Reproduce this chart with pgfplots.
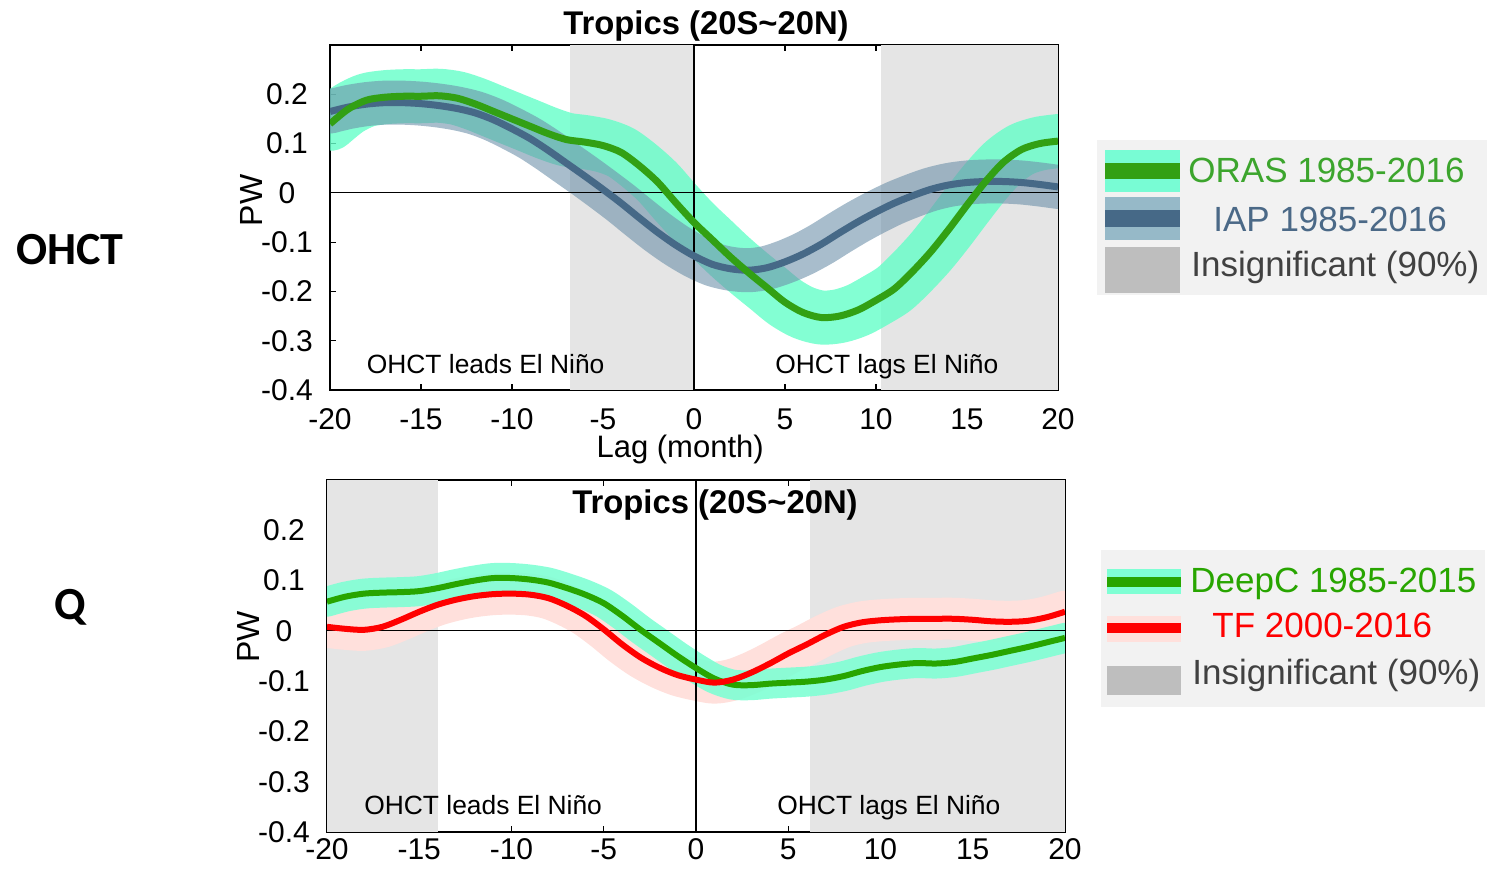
\documentclass[border=0pt]{standalone}
\usepackage{pgfplots}
\pgfplotsset{compat=1.18}
\usepackage{pgfplotstable}
\usepackage{fontspec}
\setmainfont{Liberation Sans}
\newfontfamily\carlito{Carlito}

\definecolor{orasline}{RGB}{50,160,20}
\definecolor{orasband}{RGB}{100,255,200}
\definecolor{iapline}{RGB}{70,105,135}
\definecolor{iapband}{RGB}{110,145,170}
\definecolor{shade}{RGB}{229,229,229}
\definecolor{deepline}{RGB}{40,165,0}
\definecolor{deepband}{RGB}{127,255,212}
\definecolor{tfline}{RGB}{255,0,0}
\definecolor{tfband}{RGB}{255,224,220}
\definecolor{orastext}{RGB}{60,165,45}
\definecolor{iaptext}{RGB}{75,105,135}
\definecolor{insigtext}{RGB}{65,65,65}
\definecolor{legbg}{RGB}{242,242,242}
\definecolor{legaqua}{RGB}{120,252,212}
\definecolor{legiap}{RGB}{150,185,200}
\definecolor{leggray}{RGB}{190,190,190}

\pgfplotstableread{
x oras iap
-20 0.140 0.165
-19 0.170 0.174
-18 0.188 0.180
-17 0.194 0.183
-16 0.196 0.183
-15 0.196 0.181
-14 0.197 0.177
-13 0.192 0.171
-12 0.180 0.162
-11 0.165 0.148
-10 0.150 0.130
-9 0.135 0.110
-8 0.120 0.086
-7 0.108 0.060
-6 0.103 0.034
-5 0.096 0.007
-4 0.082 -0.021
-3 0.055 -0.051
-2 0.022 -0.080
-1 -0.020 -0.106
0 -0.060 -0.128
1 -0.095 -0.145
2 -0.130 -0.154
3 -0.162 -0.157
4 -0.192 -0.152
5 -0.222 -0.140
6 -0.243 -0.124
7 -0.253 -0.104
8 -0.250 -0.081
9 -0.238 -0.059
10 -0.218 -0.039
11 -0.195 -0.021
12 -0.160 -0.006
13 -0.120 0.007
14 -0.074 0.016
15 -0.025 0.021
16 0.022 0.023
17 0.062 0.023
18 0.088 0.021
19 0.100 0.017
20 0.105 0.012
}\toptable

\pgfplotstableread{
x deepc tf
-20 0.058 0.008
-19 0.068 0.004
-18 0.074 0.002
-17 0.076 0.008
-16 0.077 0.022
-15 0.079 0.038
-14 0.085 0.052
-13 0.093 0.062
-12 0.100 0.069
-11 0.105 0.073
-10 0.105 0.074
-9 0.102 0.072
-8 0.096 0.065
-7 0.085 0.050
-6 0.072 0.030
-5 0.055 0.003
-4 0.030 -0.027
-3 0.002 -0.053
-2 -0.024 -0.073
-1 -0.050 -0.088
0 -0.074 -0.097
1 -0.095 -0.103
2 -0.107 -0.097
3 -0.108 -0.083
4 -0.105 -0.065
5 -0.103 -0.045
6 -0.101 -0.027
7 -0.097 -0.008
8 -0.090 0.008
9 -0.080 0.017
10 -0.072 0.021
11 -0.067 0.023
12 -0.064 0.024
13 -0.065 0.024
14 -0.062 0.024
15 -0.055 0.022
16 -0.048 0.019
17 -0.040 0.018
18 -0.032 0.020
19 -0.023 0.027
20 -0.014 0.038
}\bottable

\pgfplotsset{
  panel/.style={
    scale only axis,
    xmin=-20, xmax=20, ymin=-0.4, ymax=0.3,
    xtick={-20,-15,...,20},
    ytick={-0.4,-0.3,-0.2,-0.1,0,0.1,0.2},
    tick align=inside,
    major tick length=3pt,
    axis line style={line width=0.8pt},
    tick style={black, line width=0.6pt},
    tick label style={font=\fontsize{15}{15}\selectfont},
    /pgf/number format/assume math mode=true,
    yticklabel style={anchor=center, inner sep=0pt, xshift=-21.5pt},
    ylabel={PW},
    ylabel style={font=\fontsize{16}{16}\selectfont, anchor=center},
  },
  band/.style={line width=#1, line cap=round, line join=round, smooth, no markers},
}

\begin{document}
\begin{tikzpicture}[x=0.5pt,y=0.5pt]
\useasboundingbox (0,0) rectangle (1490,876);

% ---------------- top panel ----------------
\begin{axis}[panel,
  at={(165pt,243pt)}, anchor=south west,
  width=364pt, height=172.5pt,
  xticklabel style={anchor=base, inner sep=0pt, yshift=-20pt},
  xlabel={Lag (month)},
  xlabel style={font=\fontsize{15.5}{15.5}\selectfont, inner sep=0pt, at={(axis description cs:0.481,0)}, anchor=base, yshift=-34pt},
  ylabel style={at={(axis description cs:-0.108,0.55)}},
]
\addplot[fill=shade, draw=none] coordinates {(-6.8,-0.4) (0,-0.4) (0,0.3) (-6.8,0.3)} -- cycle;
\addplot[fill=shade, draw=none] coordinates {(10.3,-0.4) (20,-0.4) (20,0.3) (10.3,0.3)} -- cycle;
\addplot[band=27pt, orasband, opacity=0.8] table[x=x, y=oras] {\toptable};
\addplot[band=22pt, iapband, opacity=0.6] table[x=x, y=iap] {\toptable};
\addplot[black, line width=0.6pt] coordinates {(-20,0) (20,0)};
\addplot[black, line width=0.6pt] coordinates {(0,-0.4) (0,0.3)};
\addplot[iapline, line width=3.5pt, smooth, no markers] table[x=x, y=iap] {\toptable};
\addplot[orasline, line width=3.5pt, smooth, no markers] table[x=x, y=oras] {\toptable};
\node[anchor=base west, inner sep=0pt, font=\fontsize{13.2}{13.2}\selectfont] at (axis cs:-18.0,-0.367) {OHCT leads El Niño};
\node[anchor=base west, inner sep=0pt, font=\fontsize{13.2}{13.2}\selectfont] at (axis cs:4.45,-0.367) {OHCT lags El Niño};
\end{axis}

% ---------------- bottom panel ----------------
\begin{axis}[panel,
  at={(163.5pt,22pt)}, anchor=south west,
  width=369pt, height=176pt,
  xticklabel style={anchor=base, inner sep=0pt, yshift=-14pt},
  ylabel style={at={(axis description cs:-0.107,0.554)}},
]
\addplot[fill=shade, draw=none] coordinates {(-20,-0.4) (-14,-0.4) (-14,0.3) (-20,0.3)} -- cycle;
\addplot[fill=shade, draw=none] coordinates {(6.2,-0.4) (20,-0.4) (20,0.3) (6.2,0.3)} -- cycle;
\addplot[band=21pt, tfband] table[x=x, y=tf] {\bottable};
\addplot[band=15pt, deepband, opacity=0.9] table[x=x, y=deepc] {\bottable};
\addplot[black, line width=0.6pt] coordinates {(-20,0) (20,0)};
\addplot[black, line width=0.6pt] coordinates {(0,-0.4) (0,0.3)};
\addplot[deepline, line width=3pt, smooth, no markers] table[x=x, y=deepc] {\bottable};
\addplot[tfline, line width=3pt, smooth, no markers] table[x=x, y=tf] {\bottable};
\node[anchor=base west, inner sep=0pt, font=\fontsize{13.2}{13.2}\selectfont] at (axis cs:-18.0,-0.366) {OHCT leads El Niño};
\node[anchor=base west, inner sep=0pt, font=\fontsize{13.2}{13.2}\selectfont] at (axis cs:4.39,-0.366) {OHCT lags El Niño};
\end{axis}

% titles
\node[anchor=base, inner sep=0pt, font=\bfseries\fontsize{16.4}{16.4}\selectfont] at (706,841) {Tropics (20S\textasciitilde20N)};
\node[anchor=base, inner sep=0pt, font=\bfseries\fontsize{16.4}{16.4}\selectfont] at (715,362) {Tropics (20S\textasciitilde20N)};

% row labels
\node[anchor=base, inner sep=0pt, font=\carlito\bfseries\fontsize{23}{23}\selectfont] at (70,611) {OHCT};
\node[anchor=base, inner sep=0pt, font=\carlito\bfseries\fontsize{23}{23}\selectfont] at (70,256) {Q};

% top legend
\fill[legbg] (1097,736) rectangle (1487,581);
\fill[legaqua] (1105,726) rectangle (1180,684);
\fill[orasline] (1105,713) rectangle (1180,697);
\fill[legiap] (1105,679) rectangle (1180,636);
\fill[iapline] (1105,666) rectangle (1180,649);
\fill[leggray] (1105,629) rectangle (1180,583);
\node[anchor=base west, inner sep=0pt, text=orastext, font=\fontsize{17.5}{17.5}\selectfont] at (1188,693) {ORAS 1985-2016};
\node[anchor=base west, inner sep=0pt, text=iaptext, font=\fontsize{17.5}{17.5}\selectfont] at (1213,644) {IAP 1985-2016};
\node[anchor=base west, inner sep=0pt, text=insigtext, font=\fontsize{17.5}{17.5}\selectfont] at (1191,599) {Insignificant (90\%)};

% bottom legend
\fill[legbg] (1101,326) rectangle (1485,169);
\fill[deepband] (1107,307) rectangle (1181,282);
\fill[deepline] (1107,299) rectangle (1181,289);
\fill[tfband] (1107,260) rectangle (1181,234);
\fill[tfline] (1107,253) rectangle (1181,243);
\fill[leggray] (1107,210) rectangle (1181,181);
\node[anchor=base west, inner sep=0pt, text=deepline, font=\fontsize{17.5}{17.5}\selectfont] at (1190,283) {DeepC 1985-2015};
\node[anchor=base west, inner sep=0pt, text=tfline, font=\fontsize{17.5}{17.5}\selectfont] at (1212,238) {TF 2000-2016};
\node[anchor=base west, inner sep=0pt, text=insigtext, font=\fontsize{17.5}{17.5}\selectfont] at (1192,191) {Insignificant (90\%)};
\end{tikzpicture}
\end{document}
